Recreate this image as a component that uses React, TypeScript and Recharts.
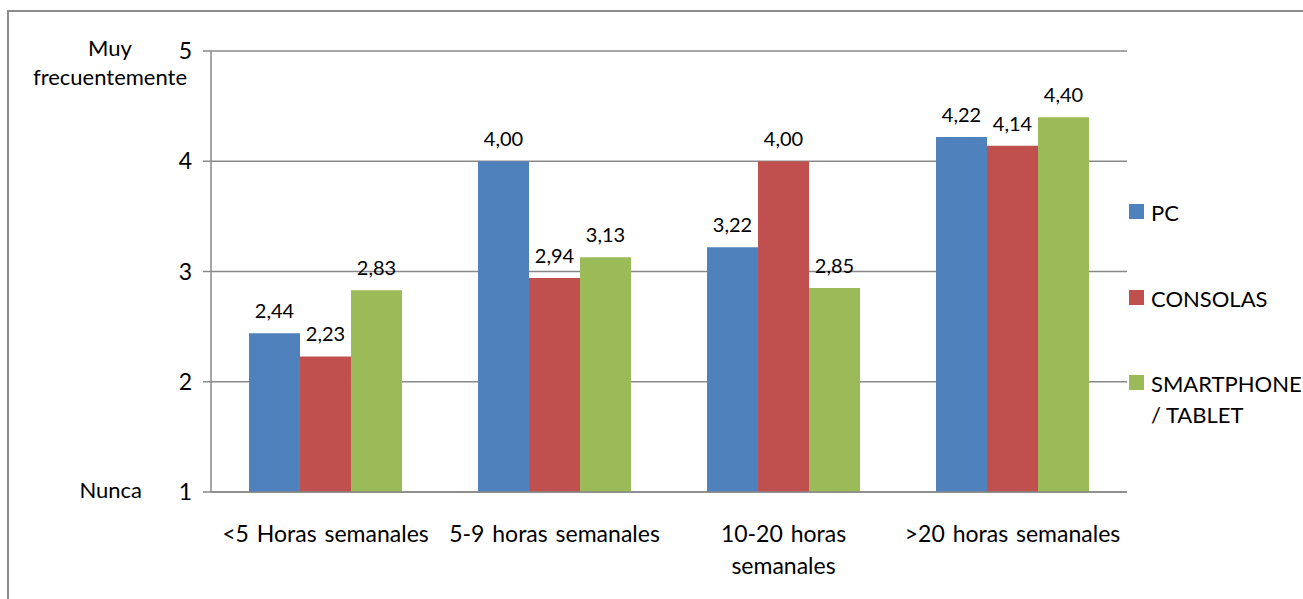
import React from 'react'
import { BarChart, Bar, XAxis, YAxis, CartesianGrid, LabelList } from 'recharts'

const categories = ['<5 Horas semanales', '5-9 horas semanales', '10-20 horas semanales', '>20 horas semanales']
const pcValues = [2.44, 4.0, 3.22, 4.22]
const consolasValues = [2.23, 2.94, 4.0, 4.14]
const smartphoneValues = [2.83, 3.13, 2.85, 4.4]
const yTicks = [1, 2, 3, 4, 5]
const yExtraLabels: Record<number, string[]> = { 5: ['Muy', 'frecuentemente'], 1: ['Nunca'] }

const seriesList = [
  { key: 'pc', name: 'PC', lines: ['PC'], color: '#4F81BD' },
  { key: 'consolas', name: 'CONSOLAS', lines: ['CONSOLAS'], color: '#C0504D' },
  { key: 'smartphone', name: 'SMARTPHONE / TABLET', lines: ['SMARTPHONE', '/ TABLET'], color: '#9BBB59' },
]

const data = categories.map((c, i) => ({
  name: c,
  pc: pcValues[i],
  consolas: consolasValues[i],
  smartphone: smartphoneValues[i],
}))

const FONT = 'Lato, "Open Sans", sans-serif'
const GRID = '#898989'
const FS = 22

const fmt = (v: any) => Number(v).toFixed(2).replace('.', ',')

// break long category names on the last space, like the original wraps them
const wrapLabel = (s: string) => {
  if (s.length <= 20) return [s]
  const i = s.lastIndexOf(' ')
  return [s.slice(0, i), s.slice(i + 1)]
}

const XTick = (props: any) => {
  const { x, y, payload } = props
  const lines = wrapLabel(payload.value)
  return (
    <text x={x} y={y + 42} textAnchor="middle" fill="#000" fontSize={23} fontFamily={FONT} wordSpacing={2}>
      {lines.map((l, i) => (
        <tspan key={i} x={x} dy={i === 0 ? 0 : 32}>{l}</tspan>
      ))}
    </text>
  )
}

const YTick = (props: any) => {
  const { x, y, payload } = props
  const extra = yExtraLabels[payload.value]
  return (
    <g fontFamily={FONT} fill="#000">
      <text x={x} y={y + 8} textAnchor="end" fontSize={23}>{payload.value}</text>
      {extra && extra.length === 2 && (
        <text x={110} y={y + 5} textAnchor="middle" fontSize={FS}>
          <tspan x={110} dy={0}>{extra[0]}</tspan>
          <tspan x={110} dy={29}>{extra[1]}</tspan>
        </text>
      )}
      {extra && extra.length === 1 && (
        <text x={142} y={y + 6} textAnchor="end" fontSize={FS}>{extra[0]}</text>
      )}
    </g>
  )
}

const LegendBox = () => {
  const tops = [204, 290, 375]
  return (
    <div style={{ position: 'absolute', left: 1129, top: 0, fontFamily: FONT, fontSize: FS, color: '#000' }}>
      {seriesList.map((s, i) => (
        <div key={s.key} style={{ position: 'absolute', top: tops[i], left: 0, display: 'flex', whiteSpace: 'nowrap' }}>
          <div style={{ width: 15, height: 15, background: s.color }} />
          <div style={{ marginLeft: 7, marginTop: -7, lineHeight: '31px' }}>
            {s.lines.map((l, j) => (
              <div key={j}>{l}</div>
            ))}
          </div>
        </div>
      ))}
    </div>
  )
}

export default function App() {
  return (
    <div style={{ position: 'fixed', left: 0, top: 0, width: 1303, height: 599, overflow: 'hidden', background: '#fff' }}>
      <div style={{ position: 'absolute', left: 7, top: 10, width: 1400, height: 700, border: '2px solid #8c8c8c' }} />
      <div style={{ position: 'absolute', left: 0, top: 0 }}>
        <BarChart
          width={1303}
          height={599}
          data={data}
          margin={{ top: 51, right: 176, left: 0, bottom: 0 }}
          barCategoryGap="16.6%"
          barGap={0}
        >
          <CartesianGrid vertical={false} stroke={GRID} strokeWidth={1.5} />
          <XAxis
            dataKey="name"
            tick={<XTick />}
            tickLine={false}
            axisLine={{ stroke: GRID, strokeWidth: 1.5 }}
            interval={0}
            height={107}
          />
          <YAxis
            type="number"
            domain={[1, 5]}
            ticks={yTicks}
            width={211}
            tick={<YTick />}
            tickSize={8}
            tickMargin={11}
            tickLine={{ stroke: GRID, strokeWidth: 1.5 }}
            axisLine={{ stroke: GRID, strokeWidth: 1.5 }}
          />
          {seriesList.map((s) => (
            <Bar key={s.key} dataKey={s.key} name={s.name} fill={s.color} isAnimationActive={false}>
              <LabelList
                dataKey={s.key}
                position="top"
                offset={15}
                formatter={fmt}
                fill="#000"
                fontSize={20}
                fontFamily={FONT}
              />
            </Bar>
          ))}
        </BarChart>
      </div>
      <LegendBox />
    </div>
  )
}
